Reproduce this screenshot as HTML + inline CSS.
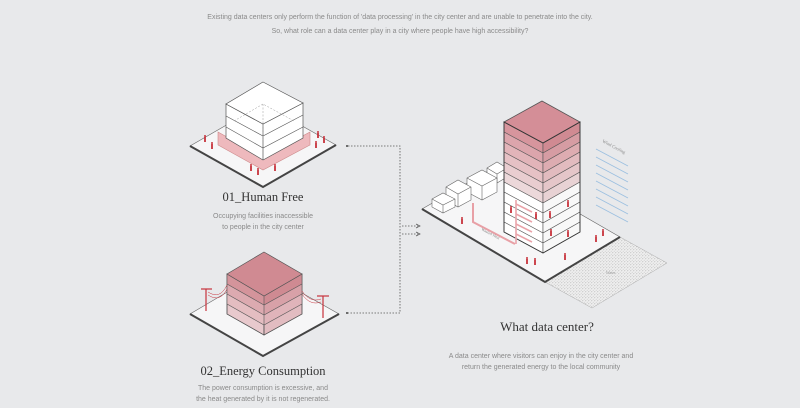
<!DOCTYPE html>
<html><head><meta charset="utf-8"><style>
html,body{margin:0;padding:0;background:#e8e9eb;width:800px;height:408px;overflow:hidden}
svg{display:block}
.s{font-family:"Liberation Sans",sans-serif;fill:#8a8a8a;font-size:7px}
.t{font-family:"Liberation Serif",serif;fill:#333;}
</style></head><body>
<svg width="800" height="408" viewBox="0 0 800 408">
<defs>
<pattern id="grav" width="3" height="3" patternUnits="userSpaceOnUse"><rect width="3" height="3" fill="#efefef"/><circle cx="0.8" cy="0.8" r="0.5" fill="#aaa"/><circle cx="2.2" cy="2.2" r="0.45" fill="#bbb"/></pattern>
<g id="p"><circle cx="0" cy="-5" r="1" fill="#c8323c"/><rect x="-0.9" y="-4" width="1.8" height="5" fill="#c8323c"/></g>
</defs>
<text class="s" x="400" y="19" text-anchor="middle">Existing data centers only perform the function of 'data processing' in the city center and are unable to penetrate into the city.</text>
<text class="s" x="400" y="33" text-anchor="middle">So, what role can a data center play in a city where people have high accessibility?</text>

<!-- Block 1 -->
<polygon points="190,146 263,187 336,145 263,104" fill="#f6f6f7" stroke="#666" stroke-width="0.6"/>
<polyline points="190,146 263,187 336,145" fill="none" stroke="#444" stroke-width="2"/>
<polygon points="218,132 263,157 310,132 310,145 263,170 218,145" fill="#eeb9bd" stroke="#c88" stroke-width="0.6"/>
<polygon points="226,104 263,124 303,103 303,138 263,160 226,138" fill="#fff" stroke="#555" stroke-width="0.7"/>
<polygon points="263,82 303,103 263,124 226,104" fill="#fff" stroke="#555" stroke-width="0.7"/>
<line x1="263" y1="124" x2="263" y2="160" stroke="#555" stroke-width="0.7"/>
<polyline points="226,116 263,136 303,115" fill="none" stroke="#555" stroke-width="0.6"/>
<polyline points="226,127 263,148 303,127" fill="none" stroke="#555" stroke-width="0.6"/>
<polyline points="234,121 263,104 294,121" fill="none" stroke="#999" stroke-width="0.5" stroke-dasharray="2,1.5"/>
<line x1="263" y1="104" x2="263" y2="140" stroke="#999" stroke-width="0.5" stroke-dasharray="2,1.5"/>
<use href="#p" x="205" y="141"/><use href="#p" x="212" y="148"/><use href="#p" x="251" y="170"/><use href="#p" x="258" y="174"/><use href="#p" x="275" y="170"/><use href="#p" x="318" y="137"/><use href="#p" x="324" y="142"/><use href="#p" x="316" y="147"/>
<text class="t" x="263" y="201" text-anchor="middle" font-size="12.5">01_Human Free</text>
<text class="s" x="263" y="218" text-anchor="middle">Occupying facilities inaccessible</text>
<text class="s" x="263" y="229" text-anchor="middle">to people in the city center</text>

<!-- Block 2 -->
<polygon points="190,314 263,356 339,314 263,271" fill="#f6f6f7" stroke="#666" stroke-width="0.6"/>
<polyline points="190,314 263,356 339,314" fill="none" stroke="#444" stroke-width="2"/>
<polygon points="227,274 264,296 264,335 227,314" fill="#e8c9cd" stroke="#555" stroke-width="0.7"/>
<polygon points="264,296 302,274 302,314 264,335" fill="#e2bcc1" stroke="#555" stroke-width="0.7"/>
<polygon points="227,274 264,296 264,305 227,284" fill="#d4949b"/>
<polygon points="264,296 302,274 302,284 264,305" fill="#cf8a92"/>
<polygon points="227,284 264,305 264,315 227,294" fill="#dcaab0"/>
<polygon points="264,305 302,284 302,294 264,315" fill="#d8a1a8"/>
<polygon points="227,294 264,315 264,325 227,304" fill="#e4bdc1"/>
<polygon points="264,315 302,294 302,304 264,325" fill="#e0b4ba"/>
<g stroke="#555" stroke-width="0.6" fill="none"><polyline points="227,284 264,305 302,284"/><polyline points="227,294 264,315 302,294"/><polyline points="227,304 264,325 302,304"/><polygon points="227,274 264,296 302,274 302,314 264,335 227,314"/><line x1="264" y1="296" x2="264" y2="335"/></g>
<polygon points="264,252 302,274 264,296 227,274" fill="#d08a92" stroke="#555" stroke-width="0.7"/>
<g stroke="#c8323c" stroke-width="1.2" fill="none"><line x1="206" y1="289" x2="206" y2="311"/><line x1="201" y1="289" x2="212" y2="289"/><line x1="323" y1="296" x2="323" y2="318"/><line x1="317" y1="296" x2="329" y2="296"/><path d="M208,292 Q220,300 227,285" stroke-width="0.5"/><path d="M208,295 Q220,303 227,289" stroke-width="0.5"/><path d="M302,291 Q310,303 321,299" stroke-width="0.5"/><path d="M302,294 Q310,306 321,302" stroke-width="0.5"/></g>
<text class="t" x="263" y="375" text-anchor="middle" font-size="12.5">02_Energy Consumption</text>
<text class="s" x="263" y="390" text-anchor="middle">The power consumption is excessive, and</text>
<text class="s" x="263" y="401" text-anchor="middle">the heat generated by it is not regenerated.</text>

<!-- connectors -->
<g stroke="#555" stroke-width="0.8" stroke-dasharray="1.5,1.5" fill="none"><polyline points="348,146 400,146 400,313 348,313"/><line x1="402" y1="226" x2="418" y2="226"/><line x1="402" y1="234" x2="418" y2="234"/></g>
<circle cx="347" cy="146" r="1" fill="#444"/><circle cx="347" cy="313" r="1" fill="#444"/>
<path d="M416,224 L420,226 L416,228 M416,232 L420,234 L416,236" stroke="#555" stroke-width="0.7" fill="none"/>

<!-- Right -->
<polygon points="620,237 667,263 592,308 545,282" fill="url(#grav)" stroke="#aaa" stroke-width="0.5"/>
<text x="606" y="274" font-size="4" fill="#999" font-family="Liberation Serif">Water</text>
<polygon points="422,209 545,282 620,237 497,166" fill="#f6f6f7" stroke="#666" stroke-width="0.6"/>
<polyline points="422,209 545,282 620,237" fill="none" stroke="#444" stroke-width="2"/>
<g fill="#fff" stroke="#666" stroke-width="0.6">
<polygon points="487,168 497,162 507,168 507,177 497,183 487,177"/><polyline points="487,168 497,174 507,168" fill="none"/><line x1="497" y1="174" x2="497" y2="183"/>
<polygon points="467,178 482,170 497,178 497,192 482,200 467,192"/><polyline points="467,178 482,186 497,178" fill="none"/><line x1="482" y1="186" x2="482" y2="200"/>
<polygon points="446,187 458,180 471,187 471,200 458,207 446,200"/><polyline points="446,187 458,194 471,187" fill="none"/><line x1="458" y1="194" x2="458" y2="207"/>
<polygon points="432,199 443,193 455,199 455,207 443,213 432,207"/><polyline points="432,199 443,205 455,199" fill="none"/><line x1="443" y1="205" x2="443" y2="213"/>
</g>
<path d="M473,203 L473,222 L515,244" stroke="#e8a0a6" stroke-width="2" fill="none"/>
<text x="481" y="230" font-size="4" fill="#888" transform="rotate(28 481 230)" font-family="Liberation Serif">Wasted Heat</text>
<!-- tower -->
<g stroke="#555" stroke-width="0.6">
<polygon points="504,122 543,143 543,153 504,132" fill="#d7959d"/><polygon points="543,143 580,122 580,132 543,153" fill="#d08a92"/>
<polygon points="504,132 543,153 543,163 504,142" fill="#dca5ac"/><polygon points="543,153 580,132 580,142 543,163" fill="#d69ca3"/>
<polygon points="504,142 543,163 543,173 504,152" fill="#e2b4b9"/><polygon points="543,163 580,142 580,152 543,173" fill="#ddacb1"/>
<polygon points="504,152 543,173 543,183 504,162" fill="#e6c1c5"/><polygon points="543,173 580,152 580,162 543,183" fill="#e2bbbf"/>
<polygon points="504,162 543,183 543,193 504,172" fill="#e9cdd0"/><polygon points="543,183 580,162 580,172 543,193" fill="#e5c6c9"/>
<polygon points="504,172 543,193 543,203 504,182" fill="#ecd8da"/><polygon points="543,193 580,172 580,182 543,203" fill="#e8d2d4"/>
<polygon points="504,182 543,203 543,213 504,192" fill="#fff"/><polygon points="543,203 580,182 580,192 543,213" fill="#f8f8f8"/>
<polygon points="504,192 543,213 543,223 504,202" fill="#fff"/><polygon points="543,213 580,192 580,202 543,223" fill="#f8f8f8"/>
<polygon points="504,202 543,223 543,233 504,212" fill="#fff"/><polygon points="543,223 580,202 580,212 543,233" fill="#f8f8f8"/>
<polygon points="504,212 543,233 543,243 504,222" fill="#fff"/><polygon points="543,233 580,212 580,222 543,243" fill="#f8f8f8"/>
<polygon points="504,222 543,243 543,253 504,232" fill="#fff"/><polygon points="543,243 580,222 580,232 543,253" fill="#f8f8f8"/>
</g>
<polygon points="542,101 580,122 543,143 504,122" fill="#d48e97" stroke="#555" stroke-width="0.8"/>
<polygon points="504,122 543,143 580,122 580,232 543,253 504,232" fill="none" stroke="#333" stroke-width="0.9"/>
<g stroke="#eaa4aa" stroke-width="1.6" fill="none"><path d="M516,200 L516,244"/><path d="M516,204 L532,212"/><path d="M516,214 L532,222"/><path d="M516,224 L532,232"/><path d="M516,234 L532,242"/></g>
<use href="#p" x="511" y="212"/><use href="#p" x="536" y="218"/><use href="#p" x="550" y="217"/><use href="#p" x="568" y="206"/><use href="#p" x="551" y="235"/><use href="#p" x="568" y="236"/><use href="#p" x="462" y="223"/><use href="#p" x="527" y="263"/><use href="#p" x="535" y="264"/><use href="#p" x="565" y="259"/><use href="#p" x="596" y="241"/><use href="#p" x="603" y="235"/>
<text x="602" y="142" font-size="4.5" fill="#888" transform="rotate(28 602 142)" font-family="Liberation Serif">Wind Cooling</text>
<g stroke="#9bbfe0" stroke-width="0.8"><line x1="596" y1="149" x2="628" y2="166"/><line x1="596" y1="157" x2="628" y2="174"/><line x1="596" y1="165" x2="628" y2="182"/><line x1="596" y1="173" x2="628" y2="190"/><line x1="596" y1="181" x2="628" y2="198"/><line x1="596" y1="189" x2="628" y2="206"/><line x1="596" y1="197" x2="628" y2="214"/><line x1="596" y1="205" x2="628" y2="222"/></g>
<text class="t" x="547" y="331" text-anchor="middle" font-size="13">What data center?</text>
<text class="s" x="541" y="358" text-anchor="middle">A data center where visitors can enjoy in the city center and</text>
<text class="s" x="541" y="369" text-anchor="middle">return the generated energy to the local community</text>
</svg>
</body></html>
